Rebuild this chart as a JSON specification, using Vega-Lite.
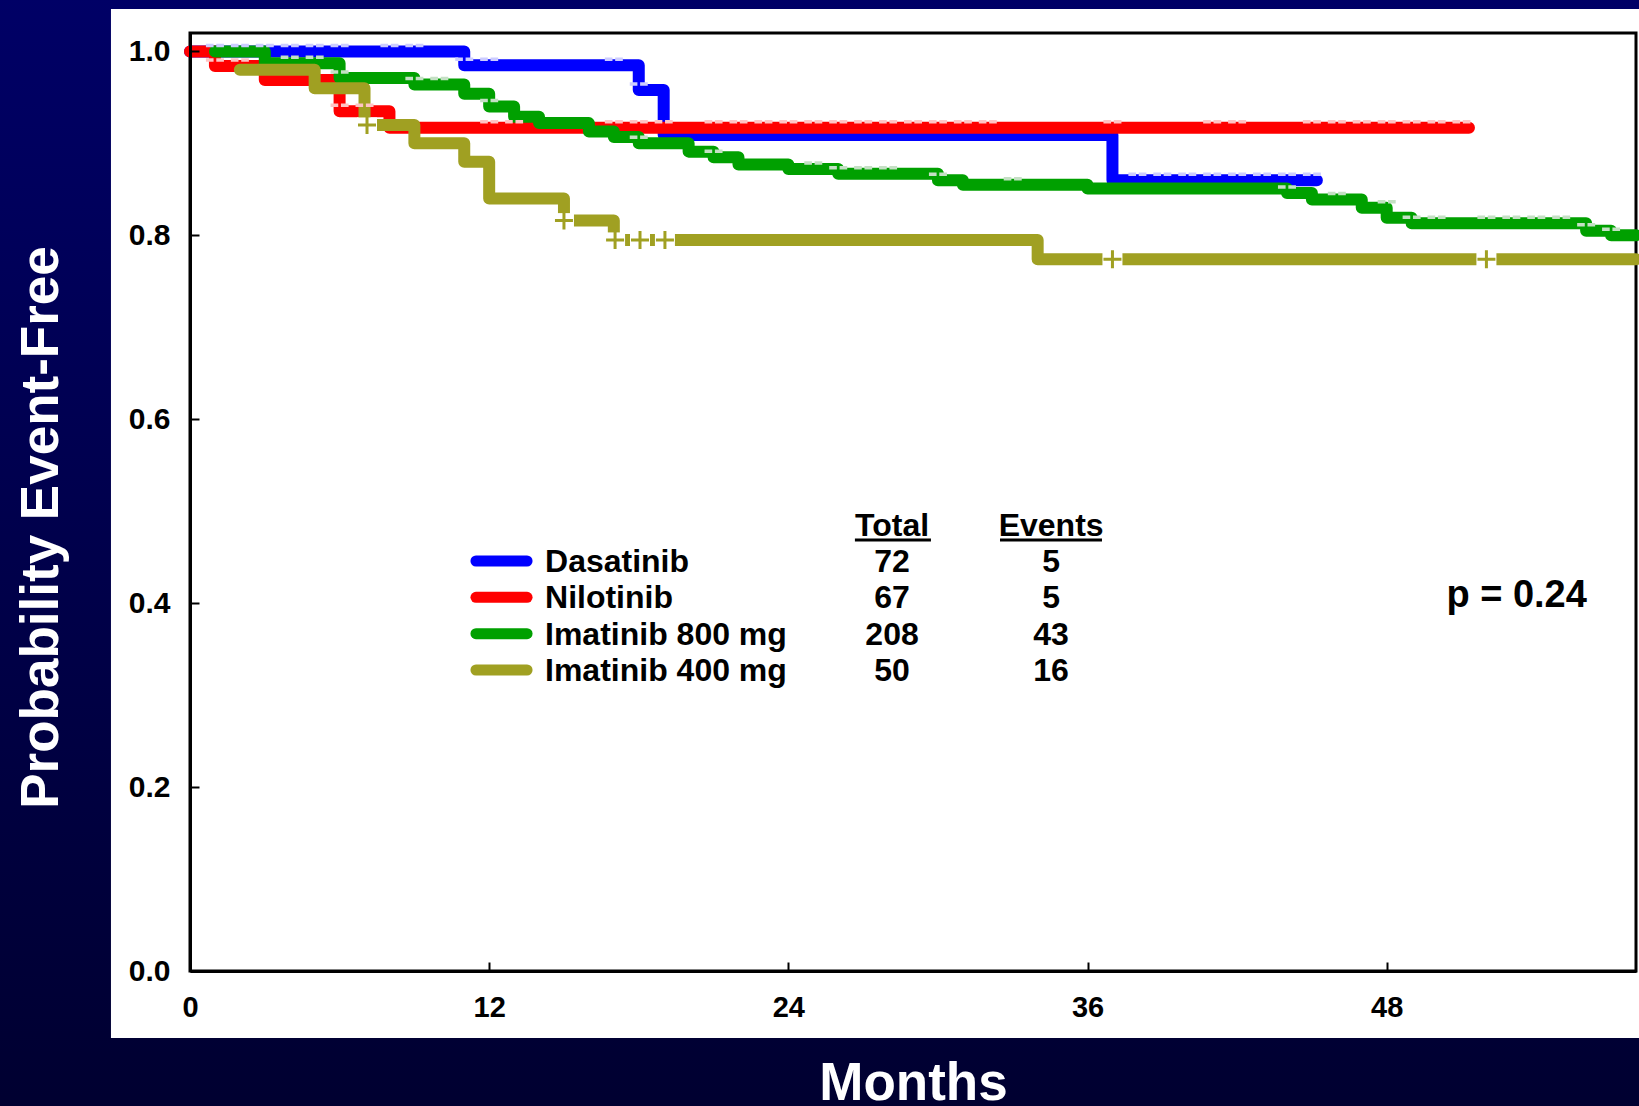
{
  "$schema": "https://vega.github.io/schema/vega-lite/v6.json",
  "width": 1446,
  "height": 938,
  "autosize": {"type": "none"},
  "padding": {"left": 190, "top": 33, "right": 3, "bottom": 135},
  "background": "#00004d",
  "config": {
    "font": "Liberation Sans",
    "view": {"stroke": null},
    "axis": {"grid": false}
  },
  "datasets": {
    "curves": [
      {"s": "Dasatinib", "t": 0, "p": 1.0},
      {"s": "Dasatinib", "t": 11, "p": 0.985},
      {"s": "Dasatinib", "t": 18, "p": 0.958},
      {"s": "Dasatinib", "t": 19, "p": 0.909},
      {"s": "Dasatinib", "t": 37, "p": 0.86},
      {"s": "Dasatinib", "t": 45.2, "p": 0.86},
      {"s": "Nilotinib", "t": 0, "p": 1.0},
      {"s": "Nilotinib", "t": 1, "p": 0.984},
      {"s": "Nilotinib", "t": 3, "p": 0.969},
      {"s": "Nilotinib", "t": 6, "p": 0.935},
      {"s": "Nilotinib", "t": 8, "p": 0.917},
      {"s": "Nilotinib", "t": 51.3, "p": 0.917},
      {"s": "Imatinib 800 mg", "t": 1, "p": 1.0},
      {"s": "Imatinib 800 mg", "t": 3, "p": 0.987},
      {"s": "Imatinib 800 mg", "t": 6, "p": 0.971},
      {"s": "Imatinib 800 mg", "t": 9, "p": 0.964},
      {"s": "Imatinib 800 mg", "t": 11, "p": 0.954},
      {"s": "Imatinib 800 mg", "t": 12, "p": 0.94},
      {"s": "Imatinib 800 mg", "t": 13, "p": 0.929},
      {"s": "Imatinib 800 mg", "t": 14, "p": 0.922},
      {"s": "Imatinib 800 mg", "t": 16, "p": 0.913},
      {"s": "Imatinib 800 mg", "t": 17, "p": 0.907},
      {"s": "Imatinib 800 mg", "t": 18, "p": 0.9},
      {"s": "Imatinib 800 mg", "t": 20, "p": 0.891},
      {"s": "Imatinib 800 mg", "t": 21, "p": 0.885},
      {"s": "Imatinib 800 mg", "t": 22, "p": 0.877},
      {"s": "Imatinib 800 mg", "t": 24, "p": 0.872},
      {"s": "Imatinib 800 mg", "t": 26, "p": 0.867},
      {"s": "Imatinib 800 mg", "t": 30, "p": 0.86},
      {"s": "Imatinib 800 mg", "t": 31, "p": 0.855},
      {"s": "Imatinib 800 mg", "t": 36, "p": 0.851},
      {"s": "Imatinib 800 mg", "t": 44, "p": 0.846},
      {"s": "Imatinib 800 mg", "t": 45, "p": 0.839},
      {"s": "Imatinib 800 mg", "t": 47, "p": 0.83},
      {"s": "Imatinib 800 mg", "t": 48, "p": 0.819},
      {"s": "Imatinib 800 mg", "t": 49, "p": 0.813},
      {"s": "Imatinib 800 mg", "t": 56, "p": 0.805},
      {"s": "Imatinib 800 mg", "t": 57, "p": 0.8},
      {"s": "Imatinib 800 mg", "t": 58, "p": 0.8},
      {"s": "Imatinib 400 mg", "t": 2, "p": 0.98},
      {"s": "Imatinib 400 mg", "t": 5, "p": 0.96},
      {"s": "Imatinib 400 mg", "t": 7, "p": 0.92},
      {"s": "Imatinib 400 mg", "t": 9, "p": 0.9},
      {"s": "Imatinib 400 mg", "t": 11, "p": 0.88},
      {"s": "Imatinib 400 mg", "t": 12, "p": 0.84},
      {"s": "Imatinib 400 mg", "t": 15, "p": 0.816},
      {"s": "Imatinib 400 mg", "t": 17, "p": 0.795},
      {"s": "Imatinib 400 mg", "t": 34, "p": 0.774},
      {"s": "Imatinib 400 mg", "t": 58, "p": 0.774}
    ],
    "censors": [
      {"s": "Dasatinib", "t": 1, "p": 1.0},
      {"s": "Dasatinib", "t": 2, "p": 1.0},
      {"s": "Dasatinib", "t": 3, "p": 1.0},
      {"s": "Dasatinib", "t": 4, "p": 1.0},
      {"s": "Dasatinib", "t": 5, "p": 1.0},
      {"s": "Dasatinib", "t": 6, "p": 1.0},
      {"s": "Dasatinib", "t": 8, "p": 1.0},
      {"s": "Dasatinib", "t": 9, "p": 1.0},
      {"s": "Dasatinib", "t": 11, "p": 0.985},
      {"s": "Dasatinib", "t": 12, "p": 0.985},
      {"s": "Dasatinib", "t": 17, "p": 0.985},
      {"s": "Dasatinib", "t": 18, "p": 0.958},
      {"s": "Dasatinib", "t": 38, "p": 0.86},
      {"s": "Dasatinib", "t": 39, "p": 0.86},
      {"s": "Dasatinib", "t": 40, "p": 0.86},
      {"s": "Dasatinib", "t": 41, "p": 0.86},
      {"s": "Dasatinib", "t": 42, "p": 0.86},
      {"s": "Dasatinib", "t": 43, "p": 0.86},
      {"s": "Dasatinib", "t": 44, "p": 0.86},
      {"s": "Dasatinib", "t": 45, "p": 0.86},
      {"s": "Nilotinib", "t": 1, "p": 0.984},
      {"s": "Nilotinib", "t": 2, "p": 0.984},
      {"s": "Nilotinib", "t": 6, "p": 0.935},
      {"s": "Nilotinib", "t": 7, "p": 0.935},
      {"s": "Nilotinib", "t": 12, "p": 0.917},
      {"s": "Nilotinib", "t": 13, "p": 0.917},
      {"s": "Nilotinib", "t": 17, "p": 0.917},
      {"s": "Nilotinib", "t": 18, "p": 0.917},
      {"s": "Nilotinib", "t": 19, "p": 0.917},
      {"s": "Nilotinib", "t": 21, "p": 0.917},
      {"s": "Nilotinib", "t": 22, "p": 0.917},
      {"s": "Nilotinib", "t": 23, "p": 0.917},
      {"s": "Nilotinib", "t": 24, "p": 0.917},
      {"s": "Nilotinib", "t": 25, "p": 0.917},
      {"s": "Nilotinib", "t": 26, "p": 0.917},
      {"s": "Nilotinib", "t": 27, "p": 0.917},
      {"s": "Nilotinib", "t": 28, "p": 0.917},
      {"s": "Nilotinib", "t": 29, "p": 0.917},
      {"s": "Nilotinib", "t": 30, "p": 0.917},
      {"s": "Nilotinib", "t": 31, "p": 0.917},
      {"s": "Nilotinib", "t": 32, "p": 0.917},
      {"s": "Nilotinib", "t": 37, "p": 0.917},
      {"s": "Nilotinib", "t": 41, "p": 0.917},
      {"s": "Nilotinib", "t": 42, "p": 0.917},
      {"s": "Nilotinib", "t": 45, "p": 0.917},
      {"s": "Nilotinib", "t": 46, "p": 0.917},
      {"s": "Nilotinib", "t": 47, "p": 0.917},
      {"s": "Nilotinib", "t": 48, "p": 0.917},
      {"s": "Nilotinib", "t": 49, "p": 0.917},
      {"s": "Nilotinib", "t": 50, "p": 0.917},
      {"s": "Nilotinib", "t": 51, "p": 0.917},
      {"s": "Imatinib 800 mg", "t": 4, "p": 0.987},
      {"s": "Imatinib 800 mg", "t": 5, "p": 0.987},
      {"s": "Imatinib 800 mg", "t": 6, "p": 0.971},
      {"s": "Imatinib 800 mg", "t": 9, "p": 0.964},
      {"s": "Imatinib 800 mg", "t": 10, "p": 0.964},
      {"s": "Imatinib 800 mg", "t": 12, "p": 0.94},
      {"s": "Imatinib 800 mg", "t": 18, "p": 0.9},
      {"s": "Imatinib 800 mg", "t": 21, "p": 0.885},
      {"s": "Imatinib 800 mg", "t": 25, "p": 0.872},
      {"s": "Imatinib 800 mg", "t": 26, "p": 0.867},
      {"s": "Imatinib 800 mg", "t": 27, "p": 0.867},
      {"s": "Imatinib 800 mg", "t": 28, "p": 0.867},
      {"s": "Imatinib 800 mg", "t": 30, "p": 0.86},
      {"s": "Imatinib 800 mg", "t": 33, "p": 0.855},
      {"s": "Imatinib 800 mg", "t": 44, "p": 0.846},
      {"s": "Imatinib 800 mg", "t": 46, "p": 0.839},
      {"s": "Imatinib 800 mg", "t": 48, "p": 0.83},
      {"s": "Imatinib 800 mg", "t": 49, "p": 0.813},
      {"s": "Imatinib 800 mg", "t": 50, "p": 0.813},
      {"s": "Imatinib 800 mg", "t": 52, "p": 0.813},
      {"s": "Imatinib 800 mg", "t": 53, "p": 0.813},
      {"s": "Imatinib 800 mg", "t": 54, "p": 0.813},
      {"s": "Imatinib 800 mg", "t": 55, "p": 0.813},
      {"s": "Imatinib 800 mg", "t": 56, "p": 0.805},
      {"s": "Imatinib 800 mg", "t": 57, "p": 0.8}
    ],
    "olivecensors": [
      {"t": 7.1, "p": 0.92},
      {"t": 15, "p": 0.816},
      {"t": 17.05, "p": 0.795},
      {"t": 18.05, "p": 0.795},
      {"t": 19.05, "p": 0.795},
      {"t": 37, "p": 0.774},
      {"t": 52, "p": 0.774}
    ],
    "table": [
      {"s": "Dasatinib", "total": "72", "events": "5"},
      {"s": "Nilotinib", "total": "67", "events": "5"},
      {"s": "Imatinib 800 mg", "total": "208", "events": "43"},
      {"s": "Imatinib 400 mg", "total": "50", "events": "16"}
    ],
    "one": [{}]
  },
  "layer": [
    {
      "layer": [
        {
          "data": {"name": "one"},
          "mark": {"type": "rect", "fill": {"gradient": "linear", "x1": 0, "y1": 0, "x2": 0, "y2": 1, "stops": [{"offset": 0, "color": "#000066"}, {"offset": 1, "color": "#000030"}]}},
          "encoding": {"x": {"datum": -7.8}, "x2": {"datum": 58.3}, "y": {"datum": 1.06}, "y2": {"datum": -0.16}}
        },
        {
          "data": {"name": "one"},
          "mark": {"type": "rect", "fill": "white"},
          "encoding": {"x": {"datum": -3.17}, "x2": {"datum": 58.3}, "y": {"datum": 1.0461}, "y2": {"datum": -0.0729}}
        },
        {
          "data": {"name": "one"},
          "mark": {"type": "rect", "filled": false, "stroke": "black", "strokeWidth": 3},
          "encoding": {"x": {"datum": 0}, "x2": {"datum": 58}, "y": {"datum": 1.02}, "y2": {"datum": 0}}
        },
        {
          "data": {"name": "curves"},
          "mark": {"type": "line", "interpolate": "step-after", "strokeWidth": 12, "strokeCap": "round", "strokeJoin": "round"},
          "encoding": {
            "x": {"field": "t", "type": "quantitative", "scale": {"domain": [0, 58], "nice": false, "zero": false},
              "axis": {"zindex": 2, "values": [0, 12, 24, 36, 48], "labelFlush": false, "labelFontSize": 29, "labelFontWeight": "bold", "labelColor": "black", "labelPadding": 31, "tickSize": -9, "tickWidth": 2, "tickColor": "black", "domainColor": "black", "domainWidth": 3, "title": "Months", "titleColor": "white", "titleFontSize": 53, "titleFontWeight": "bold", "titleY": 128, "titleBaseline": "alphabetic"}},
            "y": {"field": "p", "type": "quantitative", "scale": {"domain": [0, 1.02], "nice": false, "zero": false},
              "axis": {"zindex": 2, "values": [0, 0.2, 0.4, 0.6, 0.8, 1.0], "format": ".1f", "labelFlush": false, "labelFontSize": 30, "labelFontWeight": "bold", "labelColor": "black", "labelPadding": 29, "tickSize": -9, "tickWidth": 2, "tickColor": "black", "domainColor": "black", "domainWidth": 3, "title": "Probability Event-Free", "titleColor": "white", "titleFontSize": 53, "titleFontWeight": "bold", "titleAngle": 270, "titleX": -133, "titleY": 494, "titleAlign": "center", "titleBaseline": "alphabetic"}},
            "color": {"field": "s", "type": "nominal", "scale": {"domain": ["Dasatinib", "Nilotinib", "Imatinib 800 mg", "Imatinib 400 mg"], "range": ["#0000ff", "#ff0000", "#00a000", "#a0a022"]}, "legend": null},
            "order": {"field": "t", "type": "quantitative"}
          }
        },
        {
          "data": {"name": "olivecensors"},
          "mark": {"type": "point", "shape": "M-1,-0.75H1V0.75H-1Z", "filled": true, "fill": "white", "strokeWidth": 0, "opacity": 1, "size": 400},
          "encoding": {"x": {"field": "t", "type": "quantitative"}, "y": {"field": "p", "type": "quantitative"}}
        },
        {
          "data": {"name": "olivecensors"},
          "mark": {"type": "point", "shape": "M-1,0H1M0,-1V1", "filled": false, "stroke": "#a0a022", "strokeWidth": 3, "opacity": 1, "size": 324},
          "encoding": {"x": {"field": "t", "type": "quantitative"}, "y": {"field": "p", "type": "quantitative"}}
        },
        {
          "data": {"name": "censors"},
          "mark": {"type": "point", "shape": "M-1,0H-0.15M0.15,0H1", "filled": false, "strokeWidth": 3.5, "opacity": 1, "size": 324, "yOffset": -6},
          "encoding": {
            "x": {"field": "t", "type": "quantitative"},
            "y": {"field": "p", "type": "quantitative"},
            "stroke": {"field": "s", "type": "nominal", "scale": {"domain": ["Dasatinib", "Nilotinib", "Imatinib 800 mg"], "range": ["#ccccff", "#ffc4c4", "#c4e0c4"]}, "legend": null}
          }
        },
        {
          "data": {"name": "one"},
          "mark": {"type": "text", "text": "Total", "fontSize": 32, "fontWeight": "bold", "color": "black", "align": "center", "baseline": "alphabetic"},
          "encoding": {"x": {"datum": 28.16}, "y": {"datum": 0.473}}
        },
        {
          "data": {"name": "one"},
          "mark": {"type": "text", "text": "Events", "fontSize": 32, "fontWeight": "bold", "color": "black", "align": "center", "baseline": "alphabetic"},
          "encoding": {"x": {"datum": 34.54}, "y": {"datum": 0.473}}
        },
        {
          "data": {"name": "one"},
          "mark": {"type": "rule", "color": "black", "strokeWidth": 3},
          "encoding": {"x": {"datum": 26.67}, "x2": {"datum": 29.72}, "y": {"datum": 0.4687}}
        },
        {
          "data": {"name": "one"},
          "mark": {"type": "rule", "color": "black", "strokeWidth": 3},
          "encoding": {"x": {"datum": 32.49}, "x2": {"datum": 36.58}, "y": {"datum": 0.4687}}
        },
        {
          "data": {"name": "one"},
          "mark": {"type": "text", "text": "p = 0.24", "fontSize": 38, "fontWeight": "bold", "color": "black", "align": "right", "baseline": "alphabetic"},
          "encoding": {"x": {"datum": 56.03}, "y": {"datum": 0.396}}
        }
      ]
    },
    {
      "data": {"name": "table"},
      "encoding": {
        "y": {"field": "s", "type": "nominal", "scale": {"type": "point", "domain": ["Dasatinib", "Nilotinib", "Imatinib 800 mg", "Imatinib 400 mg"], "range": [539, 648], "padding": 0}, "axis": null}
      },
      "layer": [
        {
          "mark": {"type": "rule", "strokeWidth": 11, "strokeCap": "round", "yOffset": -11},
          "encoding": {
            "x": {"datum": 11.47},
            "x2": {"datum": 13.52},
            "color": {"field": "s", "type": "nominal", "legend": null}
          }
        },
        {
          "mark": {"type": "text", "fontSize": 32, "fontWeight": "bold", "color": "black", "align": "left", "baseline": "alphabetic"},
          "encoding": {"x": {"datum": 14.24}, "text": {"field": "s"}}
        },
        {
          "mark": {"type": "text", "fontSize": 32, "fontWeight": "bold", "color": "black", "align": "center", "baseline": "alphabetic"},
          "encoding": {"x": {"datum": 28.16}, "text": {"field": "total"}}
        },
        {
          "mark": {"type": "text", "fontSize": 32, "fontWeight": "bold", "color": "black", "align": "center", "baseline": "alphabetic"},
          "encoding": {"x": {"datum": 34.54}, "text": {"field": "events"}}
        }
      ]
    }
  ],
  "resolve": {"scale": {"y": "independent"}}
}
